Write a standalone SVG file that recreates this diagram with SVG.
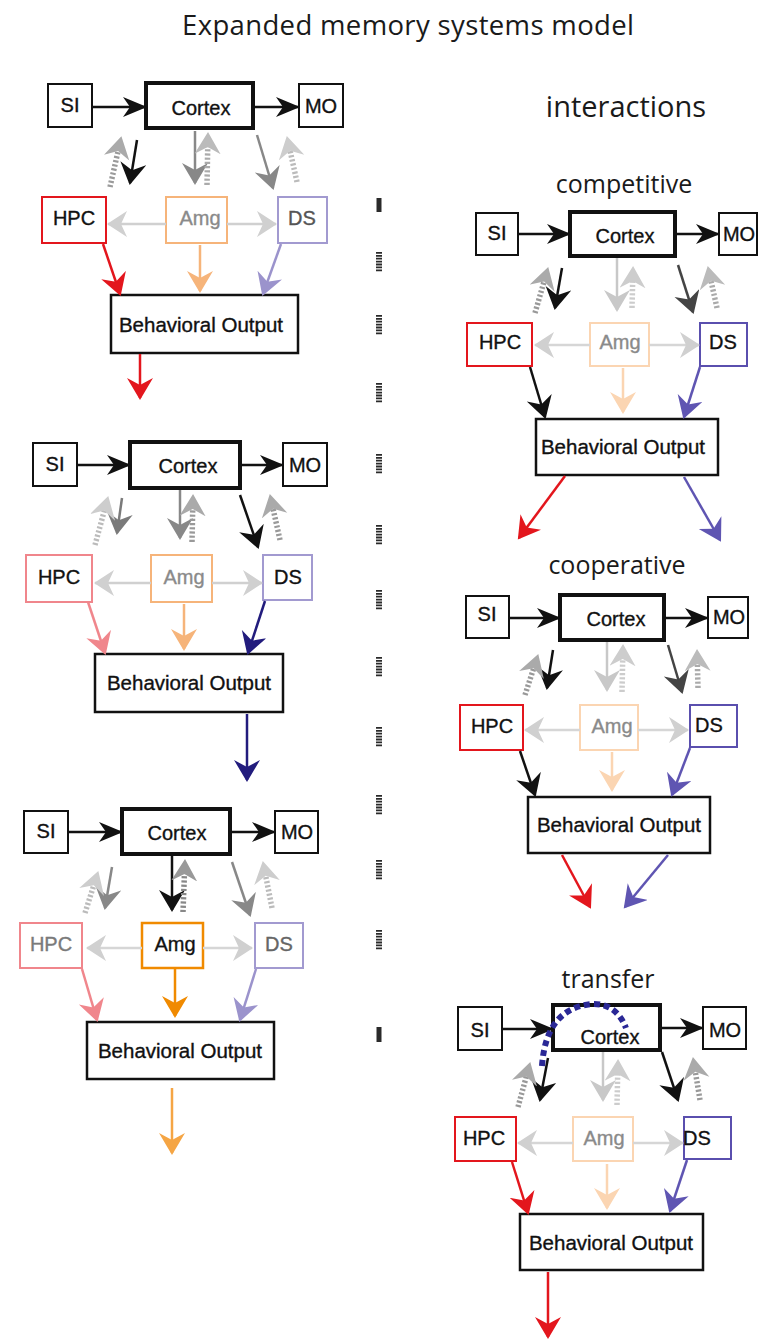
<svg xmlns="http://www.w3.org/2000/svg" width="758" height="1339" viewBox="0 0 758 1339">
<style>
.box{fill:#fff;stroke:#111;stroke-width:2}
.ctx{fill:#fff;stroke:#111;stroke-width:4}
.bo{fill:#fff;stroke:#111;stroke-width:2.5}
.lb{font-family:"Liberation Sans",Arial,sans-serif;font-size:20px;text-anchor:middle;fill:#111;stroke:#111;stroke-width:0.35}
.bl{font-size:20.5px}
.gt{fill:#8a8a8a;stroke:#8a8a8a}
.hd{font-family:"Open Sans","Noto Sans",sans-serif;text-anchor:middle;fill:#1a1a1a}
.ln{fill:none;stroke-width:2.5}
.dt{fill:none;stroke-width:5.5;stroke-dasharray:2.2 2}
.dv{stroke:#2a2a2a;stroke-width:6;stroke-dasharray:1.8 1.1}
.red{stroke:#e3161d}.pink{stroke:#f0868c}.lo{stroke:#f6b47a}.vlo{stroke:#fbd5b2}.or{stroke:#f08a00}
.lp{stroke:#a29ad0}.pu{stroke:#5a4fae}
</style>
<defs>
<marker id="hk" markerUnits="userSpaceOnUse" markerWidth="26" markerHeight="22" refX="22" refY="10" orient="auto"><path d="M0,0 L24,10 L0,20 L7,10 Z" fill="#111"/></marker>
<marker id="mk" markerUnits="userSpaceOnUse" markerWidth="24" markerHeight="28" refX="20" refY="13" orient="auto"><path d="M0,0 L22,13 L0,26 L7,13 Z" fill="#111"/></marker>
<marker id="md" markerUnits="userSpaceOnUse" markerWidth="24" markerHeight="28" refX="20" refY="13" orient="auto"><path d="M0,0 L22,13 L0,26 L7,13 Z" fill="#444"/></marker>
<marker id="mg" markerUnits="userSpaceOnUse" markerWidth="24" markerHeight="28" refX="20" refY="13" orient="auto"><path d="M0,0 L22,13 L0,26 L7,13 Z" fill="#888"/></marker>
<marker id="mg2" markerUnits="userSpaceOnUse" markerWidth="24" markerHeight="28" refX="20" refY="13" orient="auto"><path d="M0,0 L22,13 L0,26 L7,13 Z" fill="#7a7a7a"/></marker>
<marker id="mll" markerUnits="userSpaceOnUse" markerWidth="24" markerHeight="28" refX="20" refY="13" orient="auto"><path d="M0,0 L22,13 L0,26 L7,13 Z" fill="#c8c8c8"/></marker>
<marker id="mhg" markerUnits="userSpaceOnUse" markerWidth="24" markerHeight="28" refX="19" refY="13" orient="auto"><path d="M0,0 L20,13 L0,26 L6,13 Z" fill="#d0d0d0"/></marker>
<marker id="mred" markerUnits="userSpaceOnUse" markerWidth="24" markerHeight="28" refX="20" refY="13" orient="auto"><path d="M0,0 L22,13 L0,26 L7,13 Z" fill="#e3161d"/></marker>
<marker id="mpink" markerUnits="userSpaceOnUse" markerWidth="24" markerHeight="28" refX="20" refY="13" orient="auto"><path d="M0,0 L22,13 L0,26 L7,13 Z" fill="#f0868c"/></marker>
<marker id="mlo" markerUnits="userSpaceOnUse" markerWidth="24" markerHeight="28" refX="20" refY="13" orient="auto"><path d="M0,0 L22,13 L0,26 L7,13 Z" fill="#f6b47a"/></marker>
<marker id="mvlo" markerUnits="userSpaceOnUse" markerWidth="24" markerHeight="28" refX="20" refY="13" orient="auto"><path d="M0,0 L22,13 L0,26 L7,13 Z" fill="#fbd5b2"/></marker>
<marker id="mor" markerUnits="userSpaceOnUse" markerWidth="24" markerHeight="28" refX="20" refY="13" orient="auto"><path d="M0,0 L22,13 L0,26 L7,13 Z" fill="#f08a00"/></marker>
<marker id="mor2" markerUnits="userSpaceOnUse" markerWidth="24" markerHeight="28" refX="20" refY="13" orient="auto"><path d="M0,0 L22,13 L0,26 L7,13 Z" fill="#f5a544"/></marker>
<marker id="mnavy" markerUnits="userSpaceOnUse" markerWidth="24" markerHeight="28" refX="20" refY="13" orient="auto"><path d="M0,0 L22,13 L0,26 L7,13 Z" fill="#221c7d"/></marker>
<marker id="mpu" markerUnits="userSpaceOnUse" markerWidth="24" markerHeight="28" refX="20" refY="13" orient="auto"><path d="M0,0 L22,13 L0,26 L7,13 Z" fill="#5f55b2"/></marker>
<marker id="mlp" markerUnits="userSpaceOnUse" markerWidth="24" markerHeight="28" refX="20" refY="13" orient="auto"><path d="M0,0 L22,13 L0,26 L7,13 Z" fill="#9b93cc"/></marker>
<marker id="d9" markerUnits="userSpaceOnUse" markerWidth="24" markerHeight="28" refX="11" refY="13" orient="auto"><path d="M0,0 L22,13 L0,26 L7,13 Z" fill="#999"/></marker>
<marker id="da" markerUnits="userSpaceOnUse" markerWidth="24" markerHeight="28" refX="11" refY="13" orient="auto"><path d="M0,0 L22,13 L0,26 L7,13 Z" fill="#aaa"/></marker>
<marker id="db" markerUnits="userSpaceOnUse" markerWidth="24" markerHeight="28" refX="11" refY="13" orient="auto"><path d="M0,0 L22,13 L0,26 L7,13 Z" fill="#bbb"/></marker>
<marker id="dc" markerUnits="userSpaceOnUse" markerWidth="24" markerHeight="28" refX="11" refY="13" orient="auto"><path d="M0,0 L22,13 L0,26 L7,13 Z" fill="#cdcdcd"/></marker>
</defs>
<rect width="758" height="1339" fill="#fff"/>

<g id="headings">
<text class="hd" x="408" y="35" font-size="27.5" textLength="452" lengthAdjust="spacing">Expanded memory systems model</text>
<text class="hd" x="626" y="117" font-size="29">interactions</text>
<text class="hd" x="624" y="193" font-size="25">competitive</text>
<text class="hd" x="617" y="574" font-size="25">cooperative</text>
<text class="hd" x="608" y="988" font-size="25">transfer</text>
</g>

<g id="divider">
<line class="dv" x1="379" y1="198" x2="379" y2="212" style="stroke-dasharray:none;stroke-width:5"/>
<line class="dv" x1="379" y1="252" x2="379" y2="272"/>
<line class="dv" x1="379" y1="315" x2="379" y2="335"/>
<line class="dv" x1="379" y1="383" x2="379" y2="403"/>
<line class="dv" x1="379" y1="454" x2="379" y2="474"/>
<line class="dv" x1="379" y1="525" x2="379" y2="545"/>
<line class="dv" x1="379" y1="590" x2="379" y2="610"/>
<line class="dv" x1="379" y1="657" x2="379" y2="677"/>
<line class="dv" x1="379" y1="727" x2="379" y2="747"/>
<line class="dv" x1="379" y1="795" x2="379" y2="815"/>
<line class="dv" x1="379" y1="860" x2="379" y2="880"/>
<line class="dv" x1="379" y1="930" x2="379" y2="950"/>
<line class="dv" x1="379" y1="1027" x2="379" y2="1042" style="stroke-dasharray:none;stroke-width:5"/>
</g>

<!-- Panel A -->
<g id="A-SI"><rect class="box" x="48" y="84" width="44" height="43"/><text class="lb" x="70" y="112">SI</text></g>
<g id="A-Cortex"><rect class="ctx" x="146" y="83" width="107" height="45"/><text class="lb" x="201" y="115">Cortex</text></g>
<g id="A-MO"><rect class="box" x="299" y="84" width="44" height="43"/><text class="lb" x="321" y="113">MO</text></g>
<g id="A-HPC"><rect class="box red" x="42" y="197" width="64" height="46"/><text class="lb" x="74" y="225">HPC</text></g>
<g id="A-Amg"><rect class="box lo" x="166" y="197" width="61" height="46"/><text class="lb gt" x="200" y="225">Amg</text></g>
<g id="A-DS"><rect class="box lp" x="278" y="197" width="49" height="46"/><text class="lb" x="302" y="225" style="fill:#555;stroke:#555">DS</text></g>
<g id="A-BO"><rect class="bo" x="111" y="295" width="187" height="58"/><text class="lb bl" x="201" y="332">Behavioral Output</text></g>

<!-- Panel B -->
<g id="B-SI"><rect class="box" x="33" y="443" width="44" height="43"/><text class="lb" x="55" y="471">SI</text></g>
<g id="B-Cortex"><rect class="ctx" x="130" y="442" width="110" height="46"/><text class="lb" x="188" y="473">Cortex</text></g>
<g id="B-MO"><rect class="box" x="283" y="443" width="44" height="43"/><text class="lb" x="305" y="472">MO</text></g>
<g id="B-HPC"><rect class="box pink" x="26" y="555" width="66" height="47"/><text class="lb" x="59" y="584">HPC</text></g>
<g id="B-Amg"><rect class="box lo" x="151" y="555" width="61" height="47"/><text class="lb gt" x="184" y="584">Amg</text></g>
<g id="B-DS"><rect class="box lp" x="263" y="555" width="49" height="45"/><text class="lb" x="288" y="584">DS</text></g>
<g id="B-BO"><rect class="bo" x="95" y="654" width="188" height="58"/><text class="lb bl" x="189" y="690">Behavioral Output</text></g>

<!-- Panel C -->
<g id="C-SI"><rect class="box" x="24" y="811" width="44" height="42"/><text class="lb" x="46" y="838">SI</text></g>
<g id="C-Cortex"><rect class="ctx" x="122" y="809" width="108" height="45"/><text class="lb" x="177" y="840">Cortex</text></g>
<g id="C-MO"><rect class="box" x="275" y="811" width="43" height="42"/><text class="lb" x="297" y="839">MO</text></g>
<g id="C-HPC"><rect class="box pink" x="20" y="923" width="62" height="45"/><text class="lb" x="51" y="951" style="fill:#7a7a7a;stroke:#7a7a7a">HPC</text></g>
<g id="C-Amg"><rect class="box or" x="142" y="923" width="61" height="45" style="stroke-width:2.5"/><text class="lb" x="175" y="951">Amg</text></g>
<g id="C-DS"><rect class="box lp" x="255" y="923" width="48" height="45"/><text class="lb" x="279" y="951" style="fill:#666;stroke:#666">DS</text></g>
<g id="C-BO"><rect class="bo" x="87" y="1022" width="187" height="57"/><text class="lb bl" x="180" y="1058">Behavioral Output</text></g>

<!-- Competitive -->
<g id="P-SI"><rect class="box" x="476" y="213" width="42" height="42"/><text class="lb" x="497" y="240">SI</text></g>
<g id="P-Cortex"><rect class="ctx" x="570" y="212" width="105" height="44"/><text class="lb" x="625" y="243">Cortex</text></g>
<g id="P-MO"><rect class="box" x="719" y="213" width="38" height="42"/><text class="lb" x="739" y="241">MO</text></g>
<g id="P-HPC"><rect class="box red" x="467" y="323" width="65" height="43"/><text class="lb" x="500" y="349">HPC</text></g>
<g id="P-Amg"><rect class="box vlo" x="590" y="323" width="59" height="43"/><text class="lb gt" x="620" y="349">Amg</text></g>
<g id="P-DS"><rect class="box pu" x="700" y="323" width="47" height="43"/><text class="lb" x="723" y="349">DS</text></g>
<g id="P-BO"><rect class="bo" x="536" y="419" width="182" height="56"/><text class="lb bl" x="623" y="454">Behavioral Output</text></g>

<!-- Cooperative -->
<g id="Q-SI"><rect class="box" x="466" y="596" width="43" height="42"/><text class="lb" x="487" y="621">SI</text></g>
<g id="Q-Cortex"><rect class="ctx" x="560" y="595" width="104" height="45"/><text class="lb" x="616" y="626">Cortex</text></g>
<g id="Q-MO"><rect class="box" x="708" y="597" width="40" height="41"/><text class="lb" x="729" y="624">MO</text></g>
<g id="Q-HPC"><rect class="box red" x="460" y="705" width="63" height="45"/><text class="lb" x="492" y="733">HPC</text></g>
<g id="Q-Amg"><rect class="box vlo" x="580" y="705" width="58" height="45"/><text class="lb gt" x="612" y="733">Amg</text></g>
<g id="Q-DS"><rect class="box pu" x="690" y="705" width="47" height="42"/><text class="lb" x="709" y="732">DS</text></g>
<g id="Q-BO"><rect class="bo" x="528" y="797" width="182" height="56"/><text class="lb bl" x="619" y="832">Behavioral Output</text></g>

<!-- Transfer -->
<g id="T-SI"><rect class="box" x="458" y="1007" width="44" height="43"/><text class="lb" x="480" y="1037">SI</text></g>
<g id="T-Cortex"><rect class="ctx" x="553" y="1005" width="107" height="45"/><text class="lb" x="610" y="1044">Cortex</text></g>
<g id="T-MO"><rect class="box" x="703" y="1007" width="43" height="42"/><text class="lb" x="725" y="1037">MO</text></g>
<g id="T-HPC"><rect class="box red" x="455" y="1117" width="61" height="44"/><text class="lb" x="484" y="1145">HPC</text></g>
<g id="T-Amg"><rect class="box vlo" x="573" y="1117" width="60" height="44"/><text class="lb gt" x="604" y="1145">Amg</text></g>
<g id="T-DS"><rect class="box pu" x="684" y="1117" width="47" height="42"/><text class="lb" x="697" y="1145">DS</text></g>
<g id="T-BO"><rect class="bo" x="520" y="1214" width="183" height="56"/><text class="lb bl" x="611" y="1250">Behavioral Output</text></g>

<g id="connectors">
<!-- A -->
<line class="ln" stroke="#111" x1="92" y1="107" x2="145" y2="107" marker-end="url(#hk)"/>
<line class="ln" stroke="#111" x1="255" y1="107" x2="298" y2="107" marker-end="url(#hk)"/>
<line class="ln" stroke="#111" x1="137" y1="140" x2="130" y2="183" marker-end="url(#mk)"/>
<line class="dt" stroke="#9a9a9a" x1="110" y1="187" x2="119" y2="147" marker-end="url(#da)"/>
<line class="ln" stroke="#888" x1="195" y1="131" x2="195" y2="183" marker-end="url(#mg)"/>
<line class="dt" stroke="#aaa" x1="207" y1="185" x2="207.8" y2="143" marker-end="url(#db)"/>
<line class="ln" stroke="#888" x1="257" y1="135" x2="273" y2="188" marker-end="url(#mg)"/>
<line class="dt" stroke="#bbb" x1="297" y1="182" x2="289.2" y2="146.8" marker-end="url(#dc)"/>
<line class="ln" stroke="#d0d0d0" stroke-width="3" x1="166" y1="224" x2="108" y2="224" marker-end="url(#mhg)"/>
<line class="ln" stroke="#d0d0d0" stroke-width="3" x1="227" y1="224" x2="276" y2="224" marker-end="url(#mhg)"/>
<line class="ln red" x1="103" y1="244" x2="120" y2="294" marker-end="url(#mred)"/>
<line class="ln lo" x1="200" y1="245" x2="200" y2="291" marker-end="url(#mlo)"/>
<line class="ln" stroke="#9b93cc" x1="281" y1="244" x2="263" y2="294" marker-end="url(#mlp)"/>
<line class="ln red" x1="140" y1="354" x2="140" y2="398" marker-end="url(#mred)"/>
<!-- B -->
<line class="ln" stroke="#111" x1="77" y1="465" x2="129" y2="465" marker-end="url(#hk)"/>
<line class="ln" stroke="#111" x1="242" y1="465" x2="282" y2="465" marker-end="url(#hk)"/>
<line class="ln" stroke="#7a7a7a" x1="122" y1="498" x2="117" y2="533" marker-end="url(#mg2)"/>
<line class="dt" stroke="#bbb" x1="95" y1="545" x2="105.4" y2="506.7" marker-end="url(#dc)"/>
<line class="ln" stroke="#888" x1="180" y1="490" x2="180" y2="538" marker-end="url(#mg)"/>
<line class="dt" stroke="#999" x1="192" y1="542" x2="192.8" y2="505" marker-end="url(#da)"/>
<line class="ln" stroke="#111" x1="240" y1="495" x2="258" y2="547" marker-end="url(#mk)"/>
<line class="dt" stroke="#999" x1="280" y1="540" x2="272.2" y2="504.8" marker-end="url(#da)"/>
<line class="ln" stroke="#d0d0d0" stroke-width="3" x1="151" y1="583" x2="95" y2="583" marker-end="url(#mhg)"/>
<line class="ln" stroke="#d0d0d0" stroke-width="3" x1="212" y1="583" x2="262" y2="583" marker-end="url(#mhg)"/>
<line class="ln pink" x1="88" y1="602" x2="105" y2="653" marker-end="url(#mpink)"/>
<line class="ln lo" x1="184" y1="604" x2="184" y2="649" marker-end="url(#mlo)"/>
<line class="ln" stroke="#221c7d" x1="265" y1="601" x2="248" y2="653" marker-end="url(#mnavy)"/>
<line class="ln" stroke="#221c7d" stroke-width="2.8" x1="247" y1="714" x2="247" y2="780" marker-end="url(#mnavy)"/>
<!-- C -->
<line class="ln" stroke="#111" x1="68" y1="832" x2="121" y2="832" marker-end="url(#hk)"/>
<line class="ln" stroke="#111" x1="232" y1="832" x2="274" y2="832" marker-end="url(#hk)"/>
<line class="ln" stroke="#888" x1="112" y1="867" x2="105" y2="908" marker-end="url(#mg)"/>
<line class="dt" stroke="#bbb" x1="85" y1="913" x2="95" y2="881.5" marker-end="url(#dc)"/>
<line class="ln" stroke="#111" x1="172" y1="856" x2="172" y2="910" marker-end="url(#mk)"/>
<line class="dt" stroke="#888" x1="183" y1="912" x2="184.6" y2="870" marker-end="url(#d9)"/>
<line class="ln" stroke="#888" x1="232" y1="862" x2="250" y2="915" marker-end="url(#mg)"/>
<line class="dt" stroke="#bbb" x1="272" y1="908" x2="264.9" y2="871.8" marker-end="url(#dc)"/>
<line class="ln" stroke="#d6d6d6" stroke-width="3" x1="142" y1="948" x2="87" y2="948" marker-end="url(#mhg)"/>
<line class="ln" stroke="#d6d6d6" stroke-width="3" x1="203" y1="948" x2="252" y2="948" marker-end="url(#mhg)"/>
<line class="ln pink" x1="82" y1="969" x2="97" y2="1020" marker-end="url(#mpink)"/>
<line class="ln or" stroke-width="2.8" x1="175" y1="969" x2="175" y2="1016" marker-end="url(#mor)"/>
<line class="ln" stroke="#9b93cc" x1="256" y1="969" x2="240" y2="1020" marker-end="url(#mlp)"/>
<line class="ln" stroke="#f5a544" stroke-width="2.8" x1="172" y1="1088" x2="172" y2="1153" marker-end="url(#mor2)"/>
<!-- Competitive -->
<line class="ln" stroke="#111" x1="518" y1="234" x2="569" y2="234" marker-end="url(#hk)"/>
<line class="ln" stroke="#111" x1="677" y1="234" x2="718" y2="234" marker-end="url(#hk)"/>
<line class="ln" stroke="#111" x1="562" y1="268" x2="555" y2="308" marker-end="url(#mk)"/>
<line class="dt" stroke="#999" x1="535" y1="313" x2="545.2" y2="277.6" marker-end="url(#da)"/>
<line class="ln" stroke="#c8c8c8" x1="617" y1="258" x2="617" y2="310" marker-end="url(#mll)"/>
<line class="dt" stroke="#ccc" x1="632" y1="308" x2="632.8" y2="277" marker-end="url(#dc)"/>
<line class="ln" stroke="#444" x1="678" y1="265" x2="693" y2="312" marker-end="url(#md)"/>
<line class="dt" stroke="#aaa" x1="717" y1="308" x2="710.1" y2="276.8" marker-end="url(#db)"/>
<line class="ln" stroke="#d6d6d6" stroke-width="3" x1="590" y1="345" x2="535" y2="345" marker-end="url(#mhg)"/>
<line class="ln" stroke="#d6d6d6" stroke-width="3" x1="649" y1="345" x2="699" y2="345" marker-end="url(#mhg)"/>
<line class="ln" stroke="#111" x1="530" y1="367" x2="545" y2="417" marker-end="url(#mk)"/>
<line class="ln vlo" x1="623" y1="368" x2="623" y2="412" marker-end="url(#mvlo)"/>
<line class="ln" stroke="#5f55b2" x1="700" y1="367" x2="684" y2="417" marker-end="url(#mpu)"/>
<line class="ln red" x1="565" y1="476" x2="519" y2="538" marker-end="url(#mred)"/>
<line class="ln" stroke="#5f55b2" x1="684" y1="477" x2="720" y2="540" marker-end="url(#mpu)"/>
<!-- Cooperative -->
<line class="ln" stroke="#111" x1="509" y1="618" x2="559" y2="618" marker-end="url(#hk)"/>
<line class="ln" stroke="#111" x1="666" y1="618" x2="707" y2="618" marker-end="url(#hk)"/>
<line class="ln" stroke="#111" x1="553" y1="650" x2="547" y2="688" marker-end="url(#mk)"/>
<line class="dt" stroke="#999" x1="525" y1="695" x2="534.9" y2="664.5" marker-end="url(#da)"/>
<line class="ln" stroke="#c8c8c8" x1="607" y1="642" x2="607" y2="690" marker-end="url(#mll)"/>
<line class="dt" stroke="#ccc" x1="622" y1="692" x2="622.8" y2="655" marker-end="url(#dc)"/>
<line class="ln" stroke="#444" x1="668" y1="645" x2="682" y2="692" marker-end="url(#md)"/>
<line class="dt" stroke="#aaa" x1="698" y1="688" x2="697.3" y2="660" marker-end="url(#db)"/>
<line class="ln" stroke="#d6d6d6" stroke-width="3" x1="580" y1="730" x2="525" y2="730" marker-end="url(#mhg)"/>
<line class="ln" stroke="#d6d6d6" stroke-width="3" x1="638" y1="730" x2="688" y2="730" marker-end="url(#mhg)"/>
<line class="ln" stroke="#111" x1="520" y1="751" x2="535" y2="795" marker-end="url(#mk)"/>
<line class="ln vlo" x1="612" y1="752" x2="612" y2="790" marker-end="url(#mvlo)"/>
<line class="ln" stroke="#5f55b2" x1="690" y1="748" x2="672" y2="795" marker-end="url(#mpu)"/>
<line class="ln red" x1="562" y1="855" x2="590" y2="907" marker-end="url(#mred)"/>
<line class="ln" stroke="#5f55b2" x1="668" y1="855" x2="625" y2="907" marker-end="url(#mpu)"/>
<!-- Transfer -->
<line class="ln" stroke="#111" x1="502" y1="1029" x2="552" y2="1029" marker-end="url(#hk)"/>
<line class="ln" stroke="#111" x1="662" y1="1028" x2="702" y2="1028" marker-end="url(#hk)"/>
<line class="ln" stroke="#111" x1="548" y1="1058" x2="540" y2="1100" marker-end="url(#mk)"/>
<line class="dt" stroke="#999" x1="518" y1="1107" x2="527.4" y2="1072.6" marker-end="url(#da)"/>
<line class="ln" stroke="#c8c8c8" x1="603" y1="1052" x2="603" y2="1100" marker-end="url(#mll)"/>
<line class="dt" stroke="#ccc" x1="617" y1="1105" x2="617.8" y2="1070" marker-end="url(#dc)"/>
<line class="ln" stroke="#111" x1="662" y1="1052" x2="678" y2="1100" marker-end="url(#mk)"/>
<line class="dt" stroke="#999" x1="700" y1="1100" x2="694.7" y2="1067.9" marker-end="url(#da)"/>
<line class="ln" stroke="#d6d6d6" stroke-width="3" x1="573" y1="1143" x2="518" y2="1143" marker-end="url(#mhg)"/>
<line class="ln" stroke="#d6d6d6" stroke-width="3" x1="633" y1="1143" x2="683" y2="1143" marker-end="url(#mhg)"/>
<line class="ln red" x1="512" y1="1162" x2="528" y2="1213" marker-end="url(#mred)"/>
<line class="ln vlo" x1="607" y1="1164" x2="607" y2="1208" marker-end="url(#mvlo)"/>
<line class="ln" stroke="#5f55b2" x1="687" y1="1160" x2="670" y2="1211" marker-end="url(#mpu)"/>
<line class="ln red" stroke-width="2.8" x1="548" y1="1272" x2="548" y2="1337" marker-end="url(#mred)"/>
<path d="M542,1066 Q546,1008 592,1004 Q616,1003 626,1028" fill="none" stroke="#2a2896" stroke-width="6" stroke-dasharray="6 4"/>
</g>
</svg>
